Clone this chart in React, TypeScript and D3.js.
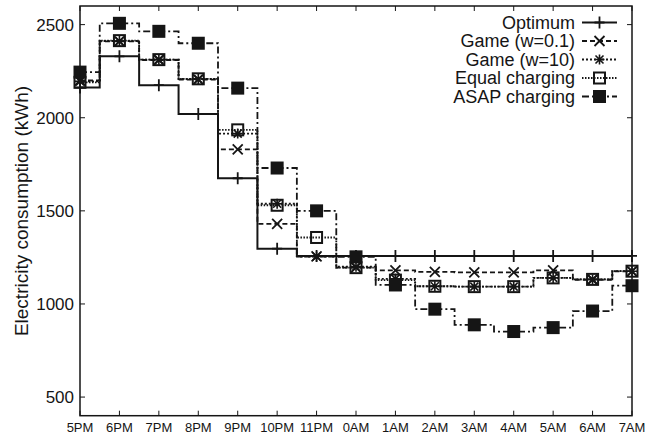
import React, { useEffect, useRef } from 'react';
import * as d3 from 'd3';

const hours = ['5PM', '6PM', '7PM', '8PM', '9PM', '10PM', '11PM', '0AM', '1AM', '2AM', '3AM', '4AM', '5AM', '6AM', '7AM'];
const yTicks = [500, 1000, 1500, 2000, 2500];

const optimum = [2163, 2330, 2175, 2020, 1675, 1297, 1258, 1258, 1258, 1258, 1258, 1258, 1258, 1258, 1258];
const game01 = [2200, 2410, 2310, 2205, 1830, 1430, 1255, 1195, 1180, 1172, 1170, 1170, 1180, 1130, 1175];
const game10 = [2195, 2412, 2312, 2208, 1915, 1538, 1255, 1200, 1135, 1095, 1093, 1093, 1140, 1132, 1176];
const equal = [2190, 2414, 2312, 2209, 1935, 1530, 1357, 1195, 1128, 1095, 1093, 1093, 1140, 1132, 1176];
const asap = [2245, 2507, 2464, 2400, 2159, 1730, 1500, 1253, 1102, 972, 888, 852, 873, 962, 1098];

type Marker = 'plus' | 'times' | 'star' | 'square' | 'filled';

const series: { name: string; values: number[]; dash: string | null; marker: Marker; width: number }[] = [
  { name: 'Optimum', values: optimum, dash: null, marker: 'plus', width: 2 },
  { name: 'Game (w=0.1)', values: game01, dash: '5,3', marker: 'times', width: 1.8 },
  { name: 'Game (w=10)', values: game10, dash: '2,2', marker: 'star', width: 1.8 },
  { name: 'Equal charging', values: equal, dash: '1.5,1.5', marker: 'square', width: 1.8 },
  { name: 'ASAP charging', values: asap, dash: '7,3,2,3', marker: 'filled', width: 1.8 },
];

const ink = '#151515';
const font = 'Liberation Sans, Arial, sans-serif';

const drawMarker = (g: d3.Selection<SVGGElement, unknown, null, undefined>, kind: Marker, x: number, y: number) => {
  const m = g.append('g').attr('transform', `translate(${x},${y})`);
  if (kind === 'plus') {
    m.append('path').attr('d', 'M-5,0H5M0,-6V6').attr('stroke', ink).attr('stroke-width', 1.8).attr('fill', 'none');
  } else if (kind === 'times') {
    m.append('path').attr('d', 'M-5,-5L5,5M-5,5L5,-5').attr('stroke', ink).attr('stroke-width', 1.8).attr('fill', 'none');
  } else if (kind === 'star') {
    m.append('path').attr('d', 'M-5,0H5M0,-5V5M-4,-4L4,4M-4,4L4,-4').attr('stroke', ink).attr('stroke-width', 1.6).attr('fill', 'none');
  } else if (kind === 'square') {
    m.append('rect').attr('x', -5.5).attr('y', -5.5).attr('width', 11).attr('height', 11)
      .attr('stroke', ink).attr('stroke-width', 2).attr('fill', 'none');
  } else {
    m.append('rect').attr('x', -6.5).attr('y', -6.5).attr('width', 13).attr('height', 13).attr('fill', ink);
  }
};

const App: React.FC = () => {
  const chartRef = useRef<SVGSVGElement | null>(null);

  useEffect(() => {
    const svg = d3.select(chartRef.current);
    svg.selectAll('*').remove();

    const left = 80, right = 632, top = 6, bottom = 415.7;

    const x = d3.scaleLinear().domain([0, hours.length - 1]).range([left, right]);
    const y = d3.scaleLinear().domain([400, 2600]).range([bottom, top]);

    const g = svg.append('g');

    // step lines, centred on each hour
    const line = d3.line<number>()
      .x((_, i) => x(i))
      .y((d) => y(d))
      .curve(d3.curveStep);

    series.forEach((s) => {
      g.append('path')
        .datum(s.values)
        .attr('fill', 'none')
        .attr('stroke', ink)
        .attr('stroke-width', s.width)
        .attr('stroke-dasharray', s.dash ?? null)
        .attr('d', line);
      s.values.forEach((v, i) => drawMarker(g, s.marker, x(i), y(v)));
    });

    // frame
    g.append('rect')
      .attr('x', left).attr('y', top)
      .attr('width', right - left).attr('height', bottom - top)
      .attr('fill', 'none').attr('stroke', ink).attr('stroke-width', 1.5);

    // ticks (inward, mirrored)
    hours.forEach((h, i) => {
      g.append('line').attr('x1', x(i)).attr('x2', x(i)).attr('y1', bottom).attr('y2', bottom - 5)
        .attr('stroke', ink).attr('stroke-width', 1);
      g.append('line').attr('x1', x(i)).attr('x2', x(i)).attr('y1', top).attr('y2', top + 5)
        .attr('stroke', ink).attr('stroke-width', 1);
      g.append('text')
        .attr('x', x(i)).attr('y', 432)
        .attr('text-anchor', 'middle')
        .style('font-family', font)
        .style('font-size', '13px')
        .attr('fill', ink)
        .text(h);
    });

    yTicks.forEach((t) => {
      g.append('line').attr('x1', left).attr('x2', left + 5).attr('y1', y(t)).attr('y2', y(t))
        .attr('stroke', ink).attr('stroke-width', 1);
      g.append('line').attr('x1', right).attr('x2', right - 5).attr('y1', y(t)).attr('y2', y(t))
        .attr('stroke', ink).attr('stroke-width', 1);
      g.append('text')
        .attr('x', 74).attr('y', y(t))
        .attr('dy', '0.36em')
        .attr('text-anchor', 'end')
        .style('font-family', font)
        .style('font-size', '17px')
        .attr('fill', ink)
        .text(t);
    });

    // y-axis label
    g.append('text')
      .attr('transform', `translate(21,211) rotate(-90)`)
      .attr('dy', '0.36em')
      .attr('text-anchor', 'middle')
      .style('font-family', font)
      .style('font-size', '19px')
      .attr('fill', ink)
      .text('Electricity consumption (kWh)');

    // legend
    series.forEach((s, i) => {
      const ly = 22.5 + i * 18.5;
      g.append('text')
        .attr('x', 575).attr('y', ly)
        .attr('dy', '0.36em')
        .attr('text-anchor', 'end')
        .style('font-family', font)
        .style('font-size', '18px')
        .attr('fill', ink)
        .text(s.name);
      g.append('line')
        .attr('x1', 582).attr('x2', 617).attr('y1', ly).attr('y2', ly)
        .attr('stroke', ink)
        .attr('stroke-width', s.width)
        .attr('stroke-dasharray', s.dash ?? null);
      drawMarker(g, s.marker, 599.5, ly);
    });
  }, []);

  return (
    <svg
      ref={chartRef}
      width={658}
      height={437}
      style={{ position: 'absolute', left: 0, top: 0, background: '#fff' }}
    ></svg>
  );
};

export default App;
